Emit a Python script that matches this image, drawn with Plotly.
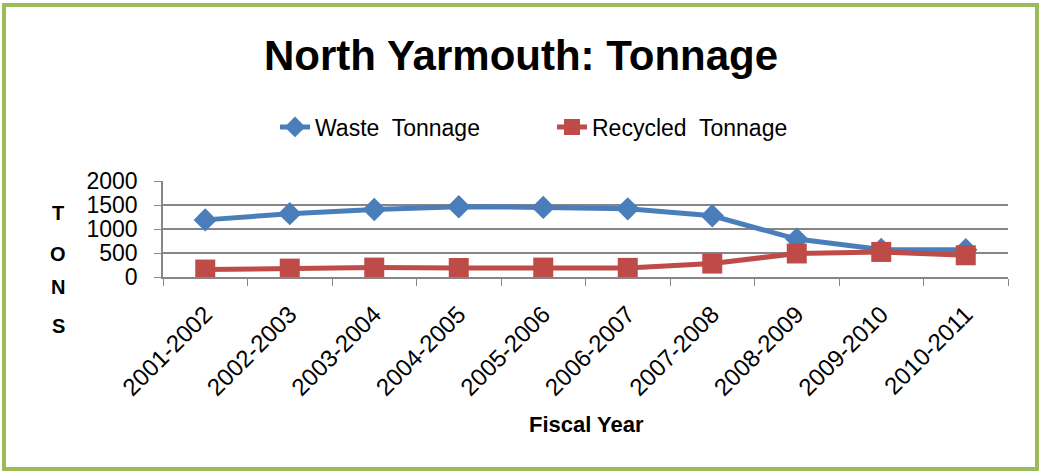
import plotly.graph_objects as go

years = ["2001-2002", "2002-2003", "2003-2004", "2004-2005", "2005-2006",
         "2006-2007", "2007-2008", "2008-2009", "2009-2010", "2010-2011"]
waste = [1190, 1320, 1405, 1465, 1450, 1420, 1275, 790, 575, 570]
recycled = [155, 175, 196, 188, 196, 190, 280, 490, 522, 453]
y_ticks = [0, 500, 1000, 1500, 2000]

W, H = 1041, 474
L, R, T, B = 163, 1008, 181, 277
pw, ph = R - L, B - T

def px(x):
    return (x - L) / pw

def py(y):
    return (B - y) / ph

fig = go.Figure()
fig.add_trace(go.Scatter(
    x=years, y=waste, name="Waste\u00a0 Tonnage", mode="lines+markers",
    line=dict(color="#4A7EBB", width=5),
    marker=dict(symbol="diamond", size=18, color="#4A7EBB")))
fig.add_trace(go.Scatter(
    x=years, y=recycled, name="Recycled\u00a0 Tonnage", mode="lines+markers",
    line=dict(color="#BE4B48", width=5),
    marker=dict(symbol="square", size=20, color="#BE4B48")))

font_family = "Liberation Sans, Arial, sans-serif"

fig.update_layout(
    width=W, height=H,
    margin=dict(l=L, r=W - R, t=T, b=H - B),
    paper_bgcolor="white", plot_bgcolor="white",
    font=dict(family=font_family, color="black"),
    showlegend=True,
    legend=dict(orientation="h", x=px(275), xanchor="left", y=py(127), yanchor="middle",
                font=dict(size=23, family=font_family), entrywidth=232,
                bgcolor="rgba(0,0,0,0)", traceorder="normal"),
    xaxis=dict(type="category", range=[-0.5, 9.5], tickangle=-45,
               tickfont=dict(size=24), ticks="outside", tickson="boundaries",
               ticklen=7, tickcolor="#868686", showline=True, linecolor="#868686",
               linewidth=1.5, showgrid=False, ticklabelstandoff=12),
    yaxis=dict(range=[0, 2000], tickvals=y_ticks, tickfont=dict(size=23),
               ticks="outside", ticklen=7, tickcolor="#868686", showline=True,
               linecolor="#868686", linewidth=1.5, showgrid=True, gridcolor="#868686",
               gridwidth=1.5, zeroline=False, ticklabelstandoff=12),
)

fig.add_annotation(text="<b>North Yarmouth: Tonnage</b>", xref="paper", yref="paper",
                   x=px(521), y=py(56), xanchor="center", yanchor="middle",
                   showarrow=False, font=dict(size=42, family=font_family))
fig.add_annotation(text="<b>Fiscal Year</b>", xref="paper", yref="paper",
                   x=px(586), y=py(424), xanchor="center", yanchor="middle",
                   showarrow=False, font=dict(size=22, family=font_family))
for letter, yy in zip("TONS", [213, 254, 287, 326]):
    fig.add_annotation(text="<b>" + letter + "</b>", xref="paper", yref="paper",
                       x=px(58), y=py(yy), xanchor="center", yanchor="middle",
                       showarrow=False, font=dict(size=20, family=font_family))

fig.add_shape(type="rect", xref="paper", yref="paper",
              x0=px(4), x1=px(1037), y0=py(469), y1=py(5),
              line=dict(color="#9BBB59", width=4), layer="below")

fig.write_html("out.html", config={"displayModeBar": False},
               post_script="document.body.style.margin='0px';")
